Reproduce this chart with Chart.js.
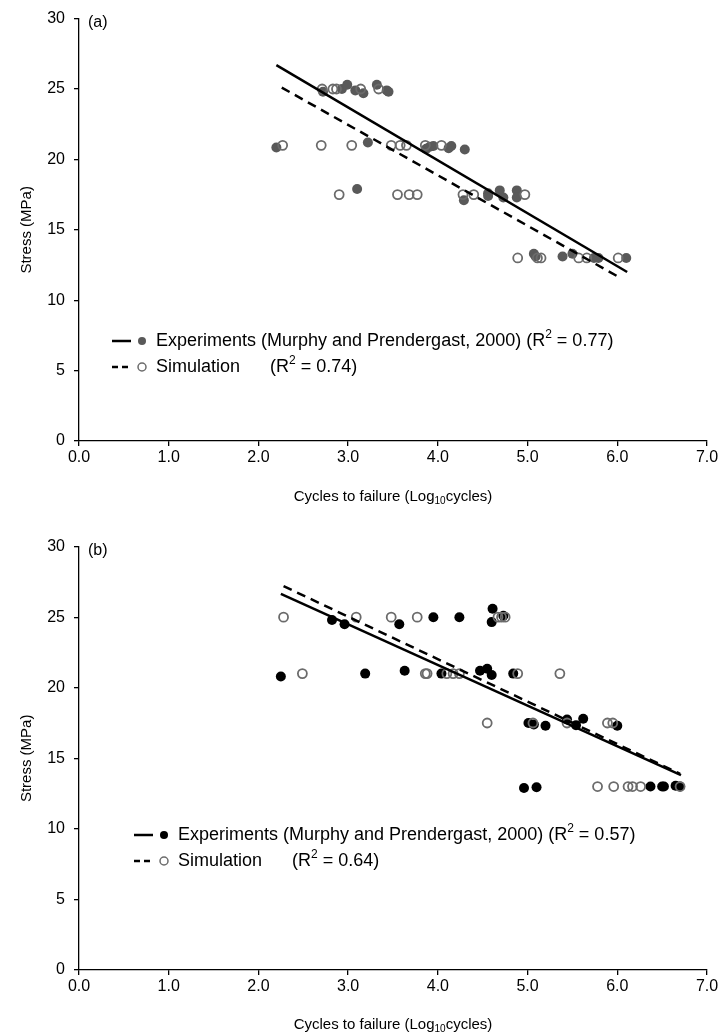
<!DOCTYPE html>
<html>
<head>
<meta charset="utf-8">
<script src="https://cdn.jsdelivr.net/npm/chart.js@4.4.1/dist/chart.umd.min.js"></script>
<style>
  body { margin: 0; background: #fff; }
  canvas { display: block; }
</style>
</head>
<body>
<canvas id="chartA" width="723" height="528"></canvas>
<canvas id="chartB" width="723" height="508"></canvas>
<script>
// axis ticks
const xTicks = [0, 1, 2, 3, 4, 5, 6, 7];
const yTicks = [0, 5, 10, 15, 20, 25, 30];

// panel (a)
const aExpX = [2.72, 2.93, 2.99, 3.08, 3.17, 3.32, 3.45, 3.43,
  2.20, 3.22, 3.87, 3.91, 3.95, 4.12, 4.15, 4.30,
  3.10, 4.29, 4.56, 4.56, 4.69, 4.73, 4.88, 4.88,
  5.07, 5.09, 5.39, 5.50, 5.74, 5.79, 6.10];
const aExpY = [24.8, 25.0, 25.3, 24.9, 24.7, 25.3, 24.8, 24.9,
  20.85, 21.2, 20.75, 20.9, 20.95, 20.8, 20.95, 20.7,
  17.9, 17.1, 17.6, 17.4, 17.8, 17.3, 17.8, 17.3,
  13.3, 13.1, 13.1, 13.3, 13.0, 13.0, 13.0];
const aSimX = [2.71, 2.83, 2.87, 3.14, 3.34,
  2.27, 2.70, 3.04, 3.48, 3.58, 3.65, 3.86, 4.04,
  2.90, 3.55, 3.68, 3.77, 4.28, 4.40, 4.97,
  4.89, 5.11, 5.15, 5.57, 5.66, 6.01];
const aSimY = [25.0, 25.0, 25.0, 25.0, 25.0,
  21.0, 21.0, 21.0, 21.0, 21.0, 21.0, 21.0, 21.0,
  17.5, 17.5, 17.5, 17.5, 17.5, 17.5, 17.5,
  13.0, 13.0, 13.0, 13.0, 13.0, 13.0];
const aExpFitX = [2.20, 6.11];
const aExpFitY = [26.7, 12.0];
const aSimFitX = [2.26, 6.03];
const aSimFitY = [25.1, 11.6];

// panel (b)
const bExpX = [2.82, 2.96, 3.57, 3.95, 4.24, 4.61, 4.60, 4.73,
  2.25, 3.19, 3.63, 4.04, 4.47, 4.55, 4.60, 4.84,
  5.01, 5.07, 5.20, 5.44, 5.54, 5.62, 6.00,
  4.96, 5.10, 6.37, 6.50, 6.52, 6.65, 6.70];
const bExpY = [24.8, 24.5, 24.5, 25.0, 25.0, 25.6, 24.65, 25.1,
  20.8, 21.0, 21.2, 21.0, 21.2, 21.35, 20.9, 21.0,
  17.5, 17.4, 17.3, 17.75, 17.35, 17.8, 17.3,
  12.9, 12.95, 13.0, 13.0, 13.0, 13.05, 13.0];
const bSimX = [2.28, 3.09, 3.48, 3.77, 4.67, 4.71, 4.75,
  2.49, 3.86, 3.88, 4.10, 4.17, 4.24, 4.89, 5.36,
  4.55, 5.06, 5.44, 5.89, 5.95,
  5.78, 5.96, 6.12, 6.17, 6.26, 6.70];
const bSimY = [25.0, 25.0, 25.0, 25.0, 25.0, 25.0, 25.0,
  21.0, 21.0, 21.0, 21.0, 21.0, 21.0, 21.0, 21.0,
  17.5, 17.5, 17.5, 17.5, 17.5,
  13.0, 13.0, 13.0, 13.0, 13.0, 13.0];
const bExpFitX = [2.25, 6.71];
const bExpFitY = [26.65, 13.8];
const bSimFitX = [2.28, 6.70];
const bSimFitY = [27.2, 13.9];

const FONT = '"Liberation Sans", Arial, sans-serif';

function pts(xs, ys) {
  return xs.map((x, i) => ({ x: x, y: ys[i] }));
}

// draws the panel letter, axis titles and the in-plot legend
const annotate = {
  id: "annotate",
  afterDraw(chart, args, o) {
    const ctx = chart.ctx;
    const ca = chart.chartArea;
    ctx.save();
    ctx.fillStyle = "#000";
    ctx.textBaseline = "middle";

    ctx.font = "16px " + FONT;
    ctx.textAlign = "left";
    ctx.fillText(o.tag, ca.left + 9, ca.top + 4);

    // x title with subscript
    ctx.font = "15px " + FONT;
    const p1 = "Cycles to failure (Log", p2 = "10", p3 = "cycles)";
    const w1 = ctx.measureText(p1).width, w3 = ctx.measureText(p3).width;
    ctx.font = "10px " + FONT;
    const w2 = ctx.measureText(p2).width;
    let tx = (ca.left + ca.right) / 2 - (w1 + w2 + w3) / 2;
    const ty = ca.bottom + o.titleGap;
    ctx.font = "15px " + FONT;
    ctx.fillText(p1, tx, ty);
    ctx.font = "10px " + FONT;
    ctx.fillText(p2, tx + w1, ty + 4);
    ctx.font = "15px " + FONT;
    ctx.fillText(p3, tx + w1 + w2, ty);

    // y title
    ctx.save();
    ctx.translate(ca.left - 52, (ca.top + ca.bottom) / 2);
    ctx.rotate(-Math.PI / 2);
    ctx.textAlign = "center";
    ctx.fillText("Stress (MPa)", 0, 0);
    ctx.restore();

    // legend
    const L = o.legend;
    L.rows.forEach((r, i) => {
      const y = L.y + i * 26;
      ctx.strokeStyle = "#000";
      ctx.lineWidth = 2.5;
      ctx.setLineDash(r.dash);
      ctx.beginPath();
      ctx.moveTo(L.x, y);
      ctx.lineTo(L.x + 19, y);
      ctx.stroke();
      ctx.setLineDash([]);
      ctx.beginPath();
      ctx.arc(L.x + 30, y, 4, 0, Math.PI * 2);
      if (r.filled) {
        ctx.fillStyle = r.color;
        ctx.fill();
      } else {
        ctx.strokeStyle = r.color;
        ctx.lineWidth = 1.5;
        ctx.stroke();
      }
      ctx.fillStyle = "#000";
      ctx.font = "18px " + FONT;
      const tx0 = L.x + 44;
      ctx.fillText(r.label, tx0, y);
      let rx = r.gap ? tx0 + r.gap : tx0 + ctx.measureText(r.label + " ").width;
      ctx.fillText("(R", rx, y);
      rx += ctx.measureText("(R").width;
      ctx.font = "12px " + FONT;
      ctx.fillText("2", rx, y - 6);
      rx += ctx.measureText("2").width;
      ctx.font = "18px " + FONT;
      ctx.fillText(" = " + r.r2 + ")", rx, y);
    });
    ctx.restore();
  }
};

function makeChart(id, d) {
  const axis = (min, max, step, fmt) => ({
    type: "linear",
    min: min,
    max: max,
    ticks: {
      stepSize: step,
      color: "#000",
      font: { family: FONT, size: 16 },
      callback: fmt
    },
    grid: { drawOnChartArea: false, drawTicks: true, tickLength: 5, color: "#000", lineWidth: 1.3 },
    border: { color: "#000", width: 1.3 }
  });
  const x = axis(0, 7, 1, v => v.toFixed(1));
  x.ticks.padding = 2;
  x.afterBuildTicks = s => { s.ticks = xTicks.map(v => ({ value: v })); };
  x.afterFit = s => { s.height = d.xHeight; };
  const y = axis(0, 30, 5, v => v);
  y.ticks.padding = 9;
  y.afterBuildTicks = s => { s.ticks = yTicks.map(v => ({ value: v })); };
  y.afterFit = s => { s.width = 79; };

  return new Chart(document.getElementById(id), {
    type: "scatter",
    data: {
      datasets: [
        { type: "line", data: pts(d.expFitX, d.expFitY), borderColor: "#000", borderWidth: 2.5, pointRadius: 0, order: 1 },
        { type: "line", data: pts(d.simFitX, d.simFitY), borderColor: "#000", borderWidth: 2.5, borderDash: [9, 6], pointRadius: 0, order: 1 },
        { data: pts(d.simX, d.simY), pointRadius: 4.5, pointBorderWidth: 1.8, borderColor: "#6b6b6b", backgroundColor: "rgba(255,255,255,0)", order: 2 },
        { data: pts(d.expX, d.expY), pointRadius: 5, pointBorderWidth: 0, borderColor: d.expColor, backgroundColor: d.expColor, order: 3 }
      ]
    },
    options: {
      responsive: false,
      animation: false,
      layout: { padding: { left: 0, top: d.top, right: 16, bottom: 0 } },
      plugins: {
        legend: { display: false },
        tooltip: { enabled: false },
        annotate: d.ann
      },
      scales: { x: x, y: y }
    },
    plugins: [annotate]
  });
}

makeChart("chartA", {
  expX: aExpX, expY: aExpY, simX: aSimX, simY: aSimY,
  expFitX: aExpFitX, expFitY: aExpFitY, simFitX: aSimFitX, simFitY: aSimFitY,
  expColor: "#595959", top: 15, xHeight: 87,
  ann: {
    tag: "(a)", titleGap: 56,
    legend: {
      x: 112, y: 341,
      rows: [
        { label: "Experiments (Murphy and Prendergast, 2000)", r2: "0.77", filled: true, color: "#595959", dash: [] },
        { label: "Simulation", r2: "0.74", filled: false, color: "#6b6b6b", dash: [6, 4], gap: 114 }
      ]
    }
  }
});

makeChart("chartB", {
  expX: bExpX, expY: bExpY, simX: bSimX, simY: bSimY,
  expFitX: bExpFitX, expFitY: bExpFitY, simFitX: bSimFitX, simFitY: bSimFitY,
  expColor: "#000", top: 18, xHeight: 66,
  ann: {
    tag: "(b)", titleGap: 55,
    legend: {
      x: 134, y: 307,
      rows: [
        { label: "Experiments (Murphy and Prendergast, 2000)", r2: "0.57", filled: true, color: "#000", dash: [] },
        { label: "Simulation", r2: "0.64", filled: false, color: "#6b6b6b", dash: [6, 4], gap: 114 }
      ]
    }
  }
});
</script>
</body>
</html>
